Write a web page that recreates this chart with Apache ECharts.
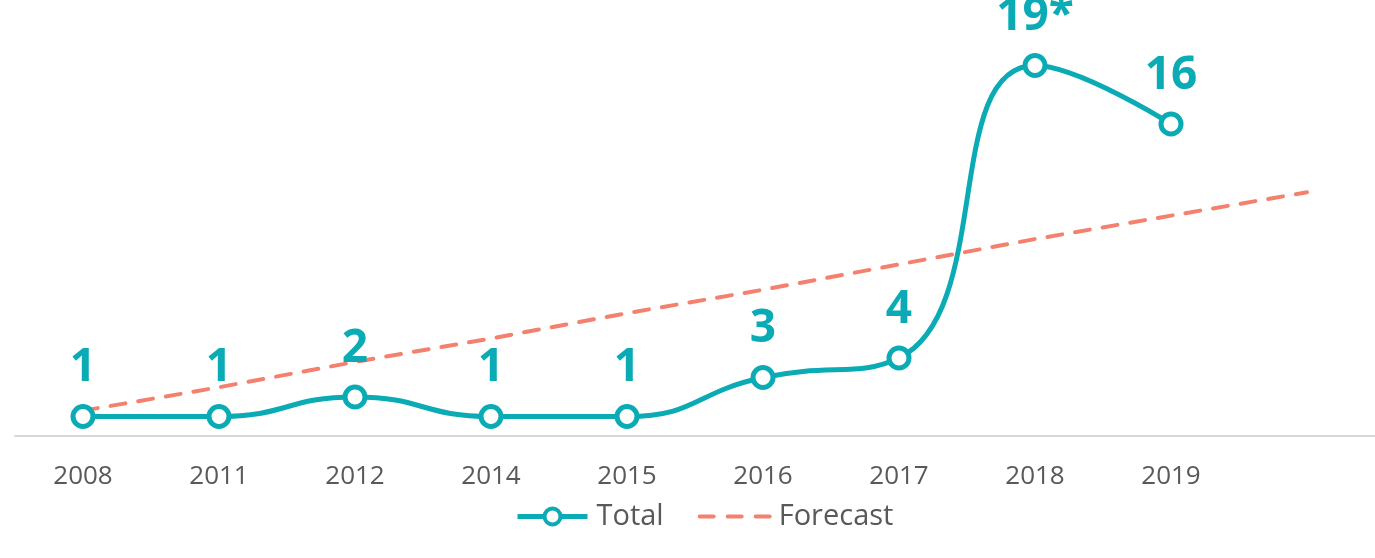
<!DOCTYPE html>
<html>
<head>
<meta charset="utf-8">
<script src="https://cdn.jsdelivr.net/npm/echarts@6/dist/echarts.min.js"></script>
<style>
  html, body { margin: 0; padding: 0; background: #fff; }
  #chart { width: 1375px; height: 558px; }
</style>
</head>
<body>
<div id="chart"></div>
<script>
var years = ['2008', '2011', '2012', '2014', '2015', '2016', '2017', '2018', '2019', ''];
var totals = [1, 1, 2, 1, 1, 3, 4, 19, 16];
var totalLabels = ['1', '1', '2', '1', '1', '3', '4', '19*', '16'];
var forecast = [1.3, 2.5, 3.8, 5.0, 6.3, 7.5, 8.8, 10.1, 11.3, 12.5];

var teal = '#0aabb5';
var salmon = '#f4806e';
var grey = '#595959';

var chart = echarts.init(document.getElementById('chart'), null, {renderer: 'canvas'});
var option = {
    animation: false,
    textStyle: { fontFamily: 'Open Sans' },
    grid: { left: 15, right: -4, top: 7, bottom: 122 },
    xAxis: {
        type: 'category',
        data: years,
        boundaryGap: true,
        axisLine: { show: true, lineStyle: { color: '#d9d9d9', width: 2 } },
        axisTick: { show: false },
        axisLabel: { color: grey, fontSize: 26, margin: 28 }
    },
    yAxis: {
        type: 'value',
        min: 0,
        max: 22,
        show: false,
        splitLine: { show: false }
    },
    legend: {
        bottom: 22,
        left: 510,
        itemWidth: 70,
        itemHeight: 20,
        itemGap: 34,
        textStyle: { color: grey, fontSize: 29, padding: [0, 0, 0, 4] },
        data: [
            {
                name: 'Total',
                lineStyle: { color: teal, width: 5 },
                itemStyle: { color: '#ffffff', borderColor: teal, borderWidth: 4 }
            },
            {
                name: 'Forecast',
                lineStyle: { color: salmon, width: 4, type: [14, 14], cap: 'round' },
                itemStyle: { opacity: 0 }
            }
        ]
    },
    series: [
        {
            name: 'Total',
            type: 'line',
            data: totals,
            smooth: 0.5,
            symbol: 'circle',
            symbolSize: 20,
            showAllSymbol: true,
            lineStyle: { color: teal, width: 5 },
            itemStyle: { color: '#ffffff', borderColor: teal, borderWidth: 5 },
            label: {
                show: true,
                position: 'top',
                distance: 13,
                color: teal,
                fontSize: 46,
                fontWeight: 'bold',
                formatter: function (p) { return totalLabels[p.dataIndex]; }
            },
            z: 3
        },
        {
            name: 'Forecast',
            type: 'line',
            data: forecast,
            symbol: 'none',
            lineStyle: { color: salmon, width: 4, type: [15, 13], cap: 'round' },
            itemStyle: { color: salmon },
            z: 2
        }
    ]
};
chart.setOption(option);
</script>
</body>
</html>
